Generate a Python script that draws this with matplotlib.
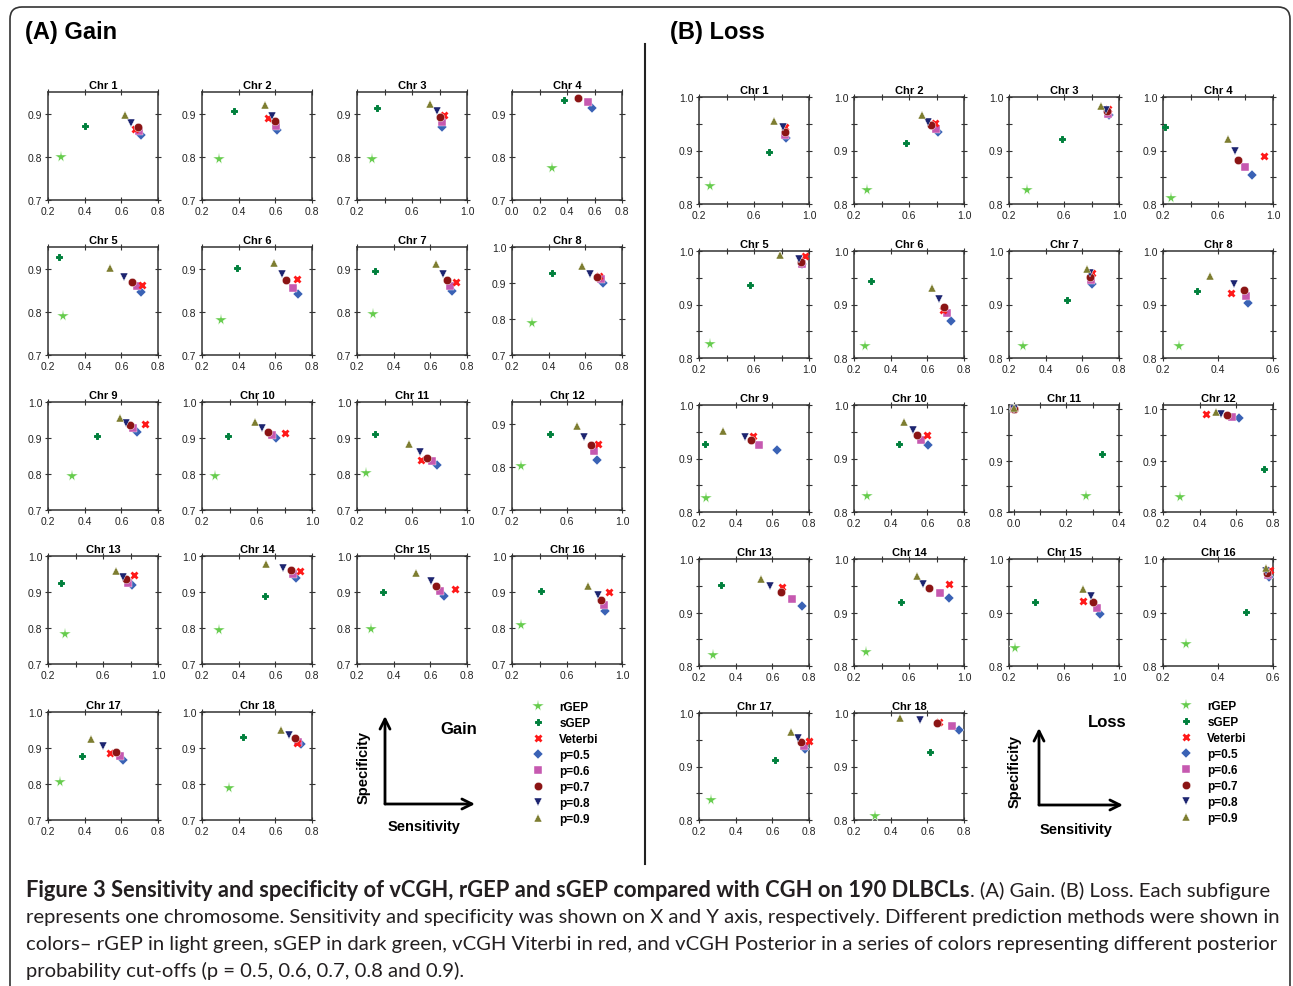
import numpy as np
import matplotlib
matplotlib.use("Agg")
import matplotlib.pyplot as plt
from matplotlib.patches import FancyArrowPatch, FancyBboxPatch
from matplotlib.lines import Line2D
from matplotlib.ticker import FormatStrFormatter

plt.rcParams['font.family'] = ['Liberation Sans', 'DejaVu Sans']

# ---------------- data ----------------
chromosomes = [f"Chr {i}" for i in range(1, 19)]
methods = ["rGEP", "sGEP", "Veterbi", "p=0.5", "p=0.6", "p=0.7", "p=0.8", "p=0.9"]
nan = np.nan

# Gain (sensitivity x, specificity y), chromosomes 1..18
gain_rgep_x = [0.270, 0.294, 0.310, 0.293, 0.281, 0.305, 0.288, 0.308, 0.330, 0.296, 0.269, 0.265, 0.320, 0.294, 0.279, 0.263, 0.265, 0.345]
gain_rgep_y = [0.800, 0.794, 0.796, 0.775, 0.790, 0.782, 0.794, 0.790, 0.794, 0.795, 0.803, 0.801, 0.783, 0.794, 0.796, 0.809, 0.805, 0.789]
gain_sgep_x = [0.403, 0.375, 0.346, 0.377, 0.261, 0.392, 0.300, 0.420, 0.469, 0.388, 0.329, 0.476, 0.291, 0.545, 0.343, 0.412, 0.388, 0.425]
gain_sgep_y = [0.871, 0.905, 0.912, 0.931, 0.926, 0.902, 0.895, 0.928, 0.906, 0.906, 0.910, 0.875, 0.926, 0.890, 0.900, 0.903, 0.879, 0.931]
gain_vit_x = [0.672, 0.560, 0.832, nan, 0.713, 0.719, 0.738, 0.674, 0.728, 0.807, 0.665, 0.827, 0.823, 0.733, 0.736, 0.902, 0.540, 0.716]
gain_vit_y = [0.864, 0.889, 0.896, nan, 0.861, 0.876, 0.870, 0.920, 0.938, 0.915, 0.840, 0.853, 0.947, 0.959, 0.908, 0.899, 0.885, 0.913]
gain_p05_x = [0.706, 0.609, 0.821, 0.584, 0.708, 0.722, 0.718, 0.697, 0.685, 0.735, 0.782, 0.815, 0.811, 0.715, 0.673, 0.878, 0.610, 0.741]
gain_p05_y = [0.850, 0.861, 0.868, 0.914, 0.845, 0.841, 0.848, 0.900, 0.916, 0.900, 0.825, 0.816, 0.919, 0.940, 0.888, 0.847, 0.867, 0.910]
gain_p06_x = [0.697, 0.605, 0.816, 0.555, 0.686, 0.695, 0.705, 0.685, 0.663, 0.711, 0.747, 0.794, 0.779, 0.697, 0.655, 0.866, 0.593, 0.726]
gain_p06_y = [0.860, 0.872, 0.881, 0.926, 0.859, 0.856, 0.860, 0.910, 0.927, 0.909, 0.836, 0.837, 0.925, 0.951, 0.902, 0.864, 0.879, 0.918]
gain_p07_x = [0.690, 0.596, 0.801, 0.481, 0.659, 0.657, 0.693, 0.663, 0.647, 0.682, 0.711, 0.775, 0.765, 0.685, 0.632, 0.849, 0.572, 0.707]
gain_p07_y = [0.868, 0.884, 0.892, 0.936, 0.870, 0.873, 0.874, 0.918, 0.936, 0.917, 0.845, 0.851, 0.935, 0.960, 0.917, 0.879, 0.890, 0.929]
gain_p08_x = [0.650, 0.583, 0.782, nan, 0.614, 0.636, 0.670, 0.625, 0.625, 0.634, 0.658, 0.724, 0.745, 0.643, 0.605, 0.823, 0.498, 0.677]
gain_p08_y = [0.878, 0.895, 0.905, nan, 0.881, 0.887, 0.888, 0.926, 0.943, 0.928, 0.860, 0.869, 0.941, 0.966, 0.931, 0.893, 0.905, 0.935]
gain_p09_x = [0.620, 0.543, 0.732, nan, 0.536, 0.592, 0.632, 0.584, 0.592, 0.586, 0.575, 0.671, 0.695, 0.551, 0.524, 0.753, 0.437, 0.629]
gain_p09_y = [0.896, 0.919, 0.922, nan, 0.902, 0.912, 0.910, 0.946, 0.955, 0.944, 0.884, 0.895, 0.958, 0.979, 0.952, 0.918, 0.924, 0.950]

# Loss
loss_rgep_x = [0.282, 0.294, 0.329, 0.259, 0.282, 0.260, 0.275, 0.257, 0.238, 0.269, 0.276, 0.294, 0.275, 0.287, 0.244, 0.282, 0.264, 0.314]
loss_rgep_y = [0.834, 0.826, 0.826, 0.811, 0.826, 0.823, 0.822, 0.822, 0.827, 0.829, 0.832, 0.829, 0.821, 0.827, 0.833, 0.841, 0.838, 0.808]
loss_sgep_x = [0.711, 0.581, 0.587, 0.215, 0.571, 0.291, 0.514, 0.322, 0.233, 0.448, 0.335, 0.750, 0.319, 0.542, 0.387, 0.503, 0.614, 0.612]
loss_sgep_y = [0.898, 0.914, 0.922, 0.943, 0.937, 0.943, 0.908, 0.926, 0.927, 0.927, 0.912, 0.884, 0.952, 0.920, 0.919, 0.901, 0.913, 0.927]
loss_vit_x = [0.829, 0.786, 0.922, 0.931, 0.973, 0.684, 0.651, 0.447, 0.494, 0.598, 0.000, 0.433, 0.653, 0.889, 0.735, 0.589, 0.798, 0.664]
loss_vit_y = [0.944, 0.951, 0.977, 0.889, 0.991, 0.889, 0.958, 0.922, 0.942, 0.943, 1.000, 0.991, 0.947, 0.954, 0.922, 0.979, 0.947, 0.984]
loss_p05_x = [0.831, 0.810, 0.925, 0.850, 0.952, 0.727, 0.653, 0.508, 0.623, 0.605, 0.000, 0.615, 0.764, 0.894, 0.862, 0.587, 0.780, 0.773]
loss_p05_y = [0.923, 0.934, 0.966, 0.854, 0.975, 0.870, 0.938, 0.902, 0.916, 0.926, 1.000, 0.982, 0.912, 0.927, 0.897, 0.966, 0.933, 0.969]
loss_p06_x = [0.829, 0.795, 0.920, 0.799, 0.947, 0.707, 0.649, 0.503, 0.525, 0.565, 0.000, 0.576, 0.709, 0.826, 0.840, 0.582, 0.770, 0.734]
loss_p06_y = [0.929, 0.941, 0.969, 0.869, 0.976, 0.885, 0.946, 0.915, 0.925, 0.934, 1.000, 0.985, 0.925, 0.937, 0.909, 0.970, 0.939, 0.975]
loss_p07_x = [0.824, 0.759, 0.915, 0.745, 0.942, 0.691, 0.643, 0.496, 0.481, 0.545, 0.000, 0.549, 0.647, 0.745, 0.808, 0.579, 0.759, 0.651]
loss_p07_y = [0.935, 0.948, 0.973, 0.883, 0.980, 0.896, 0.952, 0.928, 0.935, 0.943, 1.000, 0.988, 0.939, 0.946, 0.920, 0.973, 0.945, 0.982]
loss_p08_x = [0.810, 0.735, 0.903, 0.726, 0.928, 0.662, 0.642, 0.457, 0.452, 0.523, 0.000, 0.519, 0.587, 0.699, 0.794, 0.576, 0.741, 0.562]
loss_p08_y = [0.943, 0.953, 0.976, 0.900, 0.985, 0.910, 0.958, 0.938, 0.940, 0.953, 1.000, 0.990, 0.949, 0.953, 0.930, 0.977, 0.953, 0.986]
loss_p09_x = [0.749, 0.694, 0.871, 0.672, 0.790, 0.623, 0.623, 0.370, 0.331, 0.474, 0.000, 0.490, 0.538, 0.658, 0.735, 0.574, 0.702, 0.452]
loss_p09_y = [0.955, 0.966, 0.983, 0.922, 0.993, 0.930, 0.967, 0.953, 0.952, 0.968, 1.002, 0.994, 0.963, 0.968, 0.944, 0.983, 0.964, 0.991]

# axis ranges per chromosome
gain_xmin = [0.2, 0.2, 0.2, 0.0] + [0.2] * 14
gain_xmax = [0.8, 0.8, 1.0, 0.8, 0.8, 0.8, 0.8, 0.8, 0.8, 1.0, 1.0, 1.0, 1.0, 0.8, 0.8, 1.0, 0.8, 0.8]
gain_ymax = [0.95] * 7 + [1.0, 1.0, 1.0, 1.0, 0.95] + [1.0] * 6
loss_xmin = [0.2] * 10 + [-0.018] + [0.2] * 7
loss_xmax = [1.0, 1.0, 1.0, 1.0, 1.0, 0.8, 0.8, 0.6, 0.8, 0.8, 0.4, 0.8, 0.8, 1.0, 1.0, 0.6, 0.8, 0.8]
loss_ymax = [1.0] * 10 + [1.008, 1.008] + [1.0] * 6

gain = {
    "rGEP": (gain_rgep_x, gain_rgep_y), "sGEP": (gain_sgep_x, gain_sgep_y),
    "Veterbi": (gain_vit_x, gain_vit_y), "p=0.5": (gain_p05_x, gain_p05_y),
    "p=0.6": (gain_p06_x, gain_p06_y), "p=0.7": (gain_p07_x, gain_p07_y),
    "p=0.8": (gain_p08_x, gain_p08_y), "p=0.9": (gain_p09_x, gain_p09_y),
}
loss = {
    "rGEP": (loss_rgep_x, loss_rgep_y), "sGEP": (loss_sgep_x, loss_sgep_y),
    "Veterbi": (loss_vit_x, loss_vit_y), "p=0.5": (loss_p05_x, loss_p05_y),
    "p=0.6": (loss_p06_x, loss_p06_y), "p=0.7": (loss_p07_x, loss_p07_y),
    "p=0.8": (loss_p08_x, loss_p08_y), "p=0.9": (loss_p09_x, loss_p09_y),
}

# ---------------- styles ----------------
style = {
    "rGEP":    dict(marker="*", color="#66CC4D", ms=8.5, mew=0.3, mec="white"),
    "sGEP":    dict(marker="P", color="#00803C", ms=5.0, mew=0.7, mec="#00803C"),
    "Veterbi": dict(marker="x", color="#FF1A1A", ms=5.0, mew=2.0),
    "p=0.5":   dict(marker="D", color="#3A62B5", ms=5.2, mew=0.3, mec="white"),
    "p=0.6":   dict(marker="s", color="#C659B0", ms=5.5, mew=0.3, mec="white"),
    "p=0.7":   dict(marker="o", color="#8B1414", ms=6.0, mew=0.3, mec="white"),
    "p=0.8":   dict(marker="v", color="#1C2470", ms=6.0, mew=0.3, mec="white"),
    "p=0.9":   dict(marker="^", color="#7D7D30", ms=6.0, mew=0.3, mec="white"),
}
draw_order = ["rGEP", "sGEP", "p=0.5", "p=0.6", "Veterbi", "p=0.7", "p=0.8", "p=0.9"]

W, H = 1293, 987
fig = plt.figure(figsize=(W / 100, H / 100), dpi=100)


def fx(px):
    return px / W


def fy(py):
    return 1 - py / H


def xticks_for(lo, hi):
    if hi >= 0.99 and lo >= 0.19:
        return [0.2, 0.6, 1.0], [0.4, 0.8]
    if lo < 0.1 and hi <= 0.41:
        return [0.0, 0.2, 0.4], [0.1, 0.3]
    start = 0.0 if lo < 0.1 else 0.2
    return list(np.round(np.arange(start, hi + 1e-9, 0.2), 1)), []


def draw_panel(data, col_left, row_top, w, h, xmin, xmax, ymin, ymax, yt, ymt):
    for i, name in enumerate(chromosomes):
        r, c = divmod(i, 4)
        ax = fig.add_axes([fx(col_left[c]), fy(row_top[r] + h), w / W, h / H])
        for m in draw_order:
            xs, ys = data[m]
            ax.plot([xs[i]], [ys[i]], ls="none", clip_on=False, zorder=3, **style[m])
        ax.set_xlim(xmin[i], xmax[i])
        ax.set_ylim(ymin, ymax[i])
        xt, xm = xticks_for(xmin[i], xmax[i])
        ax.set_xticks(xt)
        ax.set_xticks(xm, minor=True)
        ax.set_yticks([v for v in yt if v <= ymax[i] + 1e-9])
        ax.set_yticks([v for v in ymt if v < ymax[i]], minor=True)
        ax.xaxis.set_major_formatter(FormatStrFormatter("%.1f"))
        ax.yaxis.set_major_formatter(FormatStrFormatter("%.1f"))
        ax.tick_params(which="both", direction="inout", length=4, width=0.8,
                       top=True, right=True, labelsize=7.5, pad=2,
                       color="#333333", labelcolor="#222222")
        for s in ax.spines.values():
            s.set_color("#333333")
            s.set_linewidth(1.1)
        ax.set_title(name, fontsize=8, fontweight="bold", pad=3)


draw_panel(gain, [48, 202, 357, 512], [93, 248, 403, 557, 713], 110, 108,
           gain_xmin, gain_xmax, 0.7, gain_ymax, [0.7, 0.8, 0.9, 1.0], [])
draw_panel(loss, [699, 854, 1009, 1163], [98, 252, 406, 560, 714], 110, 107,
           loss_xmin, loss_xmax, 0.8, loss_ymax, [0.8, 0.9, 1.0], [0.85, 0.95])

# legends
handles = [Line2D([], [], ls="none", **style[m]) for m in methods]
for xa, ya in [(532, 702), (1180, 701)]:
    fig.legend(handles, methods, loc="upper left", bbox_to_anchor=(fx(xa), fy(ya)),
               frameon=False, prop=dict(weight="bold", size=8.5), handlelength=1.0,
               handletextpad=1.3, labelspacing=0.34, borderpad=0, borderaxespad=0)

# arrow diagrams and labels
def arrows(x0, y0, x1, y1):
    for (a, b) in [((x0, y0), (x0, y1)), ((x0, y0), (x1, y0))]:
        fig.add_artist(FancyArrowPatch((fx(a[0]), fy(a[1])), (fx(b[0]), fy(b[1])),
                                       transform=fig.transFigure, arrowstyle="->",
                                       mutation_scale=18, lw=2, color="black",
                                       shrinkA=0, shrinkB=0))

arrows(385, 805, 475, 717)
arrows(1039, 806, 1123, 729)
fig.text(fx(364), fy(768), "Specificity", rotation=90, ha="center", va="center",
         fontsize=10.5, fontweight="bold")
fig.text(fx(424), fy(827), "Sensitivity", ha="center", va="center", fontsize=10.5, fontweight="bold")
fig.text(fx(459), fy(730), "Gain", ha="center", va="center", fontsize=12, fontweight="bold")
fig.text(fx(1015), fy(772), "Specificity", rotation=90, ha="center", va="center",
         fontsize=10.5, fontweight="bold")
fig.text(fx(1076), fy(830), "Sensitivity", ha="center", va="center", fontsize=10.5, fontweight="bold")
fig.text(fx(1107), fy(723), "Loss", ha="center", va="center", fontsize=12, fontweight="bold")

# panel titles
fig.text(fx(25), fy(33), "(A) Gain", ha="left", va="center", fontsize=17, fontweight="bold")
fig.text(fx(670), fy(33), "(B) Loss", ha="left", va="center", fontsize=17, fontweight="bold")

# divider line and border
fig.add_artist(Line2D([fx(645), fx(645)], [fy(45), fy(865)], transform=fig.transFigure,
                      color="#222222", lw=1.5))
fig.add_artist(FancyBboxPatch((10, -20), 1280, 999, boxstyle="round,pad=0,rounding_size=12",
                              transform=None, fill=False, edgecolor="#333333", lw=1.2))

# caption
cap_bold = "Figure 3 Sensitivity and specificity of vCGH, rGEP and sGEP compared with CGH on 190 DLBCLs"
cap_1b = ". (A) Gain. (B) Loss. Each subfigure"
cap_2 = "represents one chromosome. Sensitivity and specificity was shown on X and Y axis, respectively. Different prediction methods were shown in"
cap_3 = "colors\u2013 rGEP in light green, sGEP in dark green, vCGH Viterbi in red, and vCGH Posterior in a series of colors representing different posterior"
cap_4 = "probability cut-offs (p = 0.5, 0.6, 0.7, 0.8 and 0.9)."

cfont = ["Lato", "DejaVu Sans"]
fig.canvas.draw()
rend = fig.canvas.get_renderer()


def fit(t, target):
    wpx = t.get_window_extent(rend).width
    t.set_fontsize(t.get_fontsize() * target / wpx)
    return t.get_fontsize()


t2 = fig.text(fx(26), fy(923), cap_2, family=cfont, fontsize=12, color="#231F20", va="baseline")
fs = fit(t2, 1251)
tb = fig.text(fx(26), fy(897), cap_bold, family=cfont, fontsize=12, fontweight="bold",
              color="#231F20", va="baseline")
fit(tb, 940)
bold_end = tb.get_window_extent(rend).x1
fig.text(bold_end / W, fy(897), cap_1b, family=cfont, fontsize=fs, color="#231F20", va="baseline")
fig.text(fx(26), fy(950), cap_3, family=cfont, fontsize=fs, color="#231F20", va="baseline")
fig.text(fx(26), fy(977), cap_4, family=cfont, fontsize=fs, color="#231F20", va="baseline")

fig.savefig("out.png", dpi=100)
